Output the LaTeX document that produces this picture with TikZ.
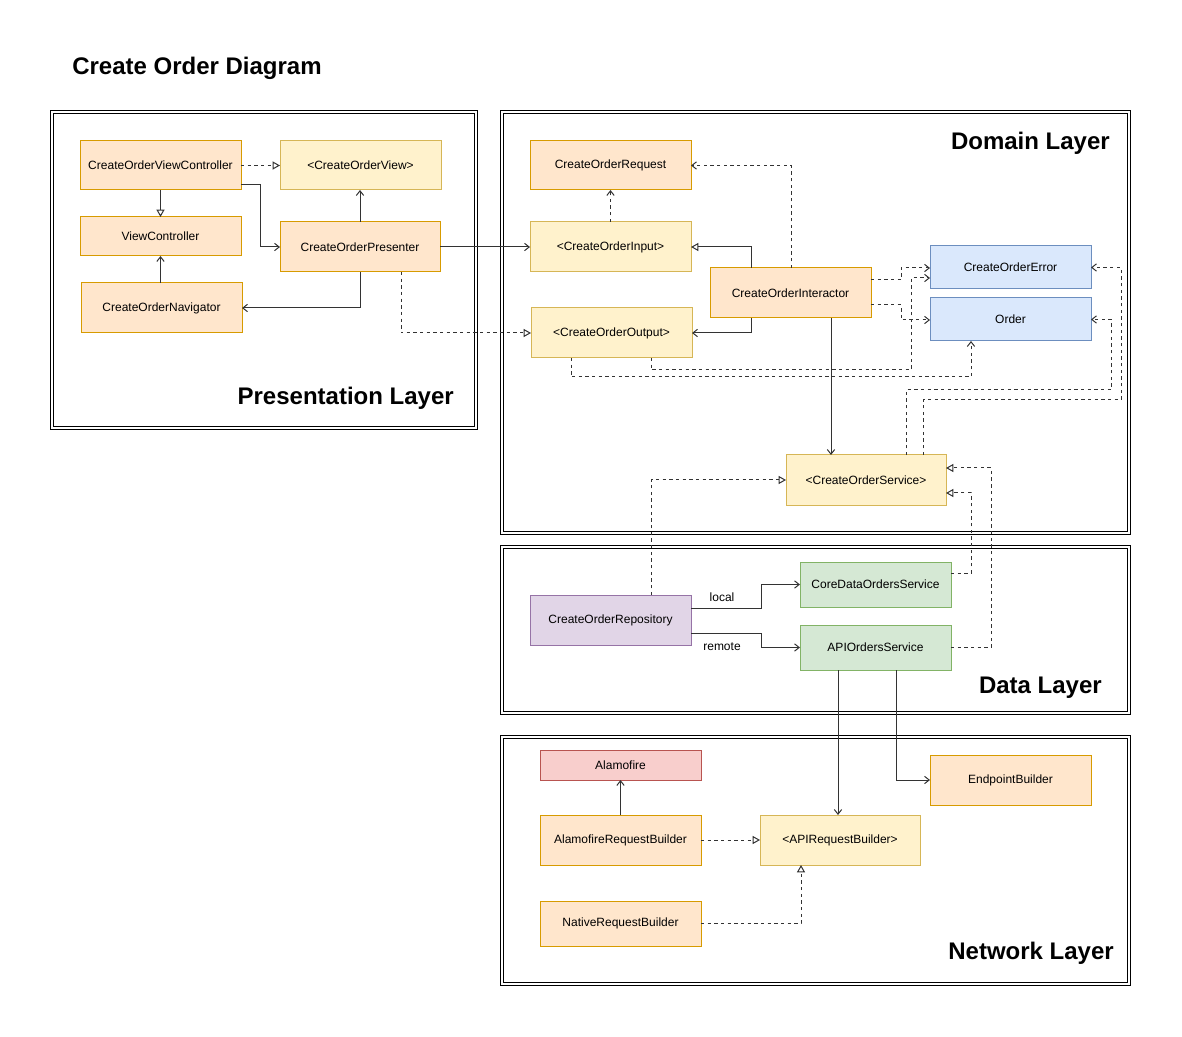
\documentclass[tikz,border=0pt]{standalone}
\usepackage{fontspec}
\setmainfont{Liberation Sans}
\usetikzlibrary{arrows.meta}
\definecolor{orF}{HTML}{FFE6CC}\definecolor{orD}{HTML}{D79B00}
\definecolor{yeF}{HTML}{FFF2CC}\definecolor{yeD}{HTML}{D6B656}
\definecolor{blF}{HTML}{DAE8FC}\definecolor{blD}{HTML}{6C8EBF}
\definecolor{grF}{HTML}{D5E8D4}\definecolor{grD}{HTML}{82B366}
\definecolor{puF}{HTML}{E1D5E7}\definecolor{puD}{HTML}{9673A6}
\definecolor{reF}{HTML}{F8CECC}\definecolor{reD}{HTML}{B85450}
\newcommand\mybox[7]{%
  \pgfmathsetmacro\bxw{(#5-#3)*0.75}%
  \pgfmathsetmacro\bxh{(#6-#4)*0.75}%
  \node[cls,#2,minimum width=\bxw pt,minimum height=\bxh pt] (#1) at ({(#3+#5)/2},{(#4+#6)/2}) {#7};}
\tikzset{
  cls/.style={draw,line width=0.75pt,inner sep=0pt,outer sep=0pt,font=\fontsize{9pt}{11pt}\selectfont},
  orange/.style={fill=orF,draw=orD},
  yellow/.style={fill=yeF,draw=yeD},
  blue/.style={fill=blF,draw=blD},
  green/.style={fill=grF,draw=grD},
  purple/.style={fill=puF,draw=puD},
  red/.style={fill=reF,draw=reD},
  frame/.style={draw=black,line width=0.75pt,double=white,double distance=1.5pt},
  layer/.style={anchor=east,inner sep=0pt,font=\fontsize{18pt}{21pt}\selectfont\bfseries},
  conn/.style={line width=0.75pt,draw=black!80},
  use/.style={conn,-{Straight Barb[length=3.5pt,width=5.5pt]}},
  inh/.style={conn,-{Triangle[open,length=5.5pt,width=6pt,fill=white]}},
  dsh/.style={dash pattern=on 2.5pt off 2.5pt},
  lbl/.style={inner sep=0pt,font=\fontsize{9pt}{11pt}\selectfont}
}
\begin{document}
\begin{tikzpicture}[x=0.75pt,y=-0.75pt]
\useasboundingbox[fill=white] (0,0) rectangle (1182,1037);
% title
\node[anchor=west,inner sep=0pt,font=\fontsize{18pt}{21pt}\selectfont\bfseries] (title) at (72,68) {Create Order Diagram};
% layer frames
\draw[frame] (52,112) rectangle (476,428);
\draw[frame] (502,112) rectangle (1129,533);
\draw[frame] (502,547) rectangle (1129,713);
\draw[frame] (502,737) rectangle (1129,984);
\node[layer] (lpres) at (454,398) {Presentation Layer};
\node[layer] (ldom) at (1110,143) {Domain Layer};
\node[layer] (ldata) at (1102,688) {Data Layer};
\node[layer] (lnet) at (1114,953) {Network Layer};
% presentation nodes
\mybox{cvc}{orange}{80}{141}{241}{190}{CreateOrderViewController}
\mybox{cov}{yellow}{280}{141}{441}{190}{<CreateOrderView>}
\mybox{vc}{orange}{80}{217}{241}{256}{ViewController}
\mybox{pres}{orange}{280}{222}{440}{272}{CreateOrderPresenter}
\mybox{nav}{orange}{81}{283}{242}{333}{CreateOrderNavigator}
% domain nodes
\mybox{req}{orange}{530}{141}{691}{190}{CreateOrderRequest}
\mybox{inp}{yellow}{530}{222}{691}{272}{<CreateOrderInput>}
\mybox{outp}{yellow}{531}{308}{692}{358}{<CreateOrderOutput>}
\mybox{inter}{orange}{710}{268}{871}{318}{CreateOrderInteractor}
\mybox{err}{blue}{930}{246}{1091}{289}{CreateOrderError}
\mybox{ord}{blue}{930}{298}{1091}{341}{Order}
\mybox{serv}{yellow}{786}{455}{946}{505}{<CreateOrderService>}
% data nodes
\mybox{repo}{purple}{530}{595}{691}{645}{CreateOrderRepository}
\mybox{core}{green}{800}{562}{951}{607}{CoreDataOrdersService}
\mybox{api}{green}{800}{625}{951}{670}{APIOrdersService}
% network nodes
\mybox{alamo}{red}{540}{750}{701}{780}{Alamofire}
\mybox{arb}{orange}{540}{815}{701}{865}{AlamofireRequestBuilder}
\mybox{apirb}{yellow}{760}{815}{920}{865}{<APIRequestBuilder>}
\mybox{endp}{orange}{930}{755}{1091}{805}{EndpointBuilder}
\mybox{nrb}{orange}{540}{901}{701}{946}{NativeRequestBuilder}
% presentation connectors
\draw[inh,dsh] (cvc.east) -- (cov.west);
\draw[inh] (cvc.south) -- (vc.north);
\draw[use] (cvc.east |- 0,185) -| (260,247) -- (pres.west);
\draw[use] (pres.north) -- (pres.north |- cov.south);
\draw[use] (pres.south) |- (nav.east);
\draw[use] (vc.south |- nav.north) -- (vc.south);
\draw[use] (pres.east) -- (inp.west);
\draw[inh,dsh] (pres.south -| 401,0) |- (outp.west);
% domain connectors
\draw[use,dsh] (inp.north) -- (req.south);
\draw[use,dsh] (inter.north -| 791,0) |- (req.east);
\draw[inh] (inter.north -| 751,0) |- (inp.east);
\draw[use] (inter.south -| 751,0) |- (outp.east);
\draw[use,dsh] (inter.east |- 0,280) -- (901,280) |- (err.west |- 0,268);
\draw[use,dsh] (inter.east |- 0,305) -- (901,305) |- (ord.west |- 0,320);
\draw[use,dsh] (outp.south -| 651,0) |- (911,370) |- (err.west |- 0,278);
\draw[use,dsh] (outp.south -| 571,0) |- (971,377) -- (ord.south -| 971,0);
\draw[use,dsh] (serv.north -| 906,0) |- (1111,390) |- (ord.east);
\draw[use,dsh] (serv.north -| 923,0) |- (1121,400) |- (err.east);
\draw[use] (inter.south -| 831,0) -- (serv.north -| 831,0);
% data connectors
\draw[inh,dsh] (repo.north -| 651,0) |- (serv.west);
\draw[inh,dsh] (core.east |- 0,573) -| (971,493) -- (serv.east |- 0,493);
\draw[inh,dsh] (api.east) -| (991,468) -- (serv.east |- 0,468);
\draw[use] (repo.east |- 0,608) -- (761,608) |- (core.west);
\draw[use] (repo.east |- 0,633) -- (761,633) |- (api.west);
\node[lbl] (llocal) at (722,597) {local};
\node[lbl] (lremote) at (722,647) {remote};
% network connectors
\draw[use] (api.south -| 838,0) -- (apirb.north -| 838,0);
\draw[use] (api.south -| 896,0) |- (endp.west);
\draw[use] (arb.north) -- (alamo.south);
\draw[inh,dsh] (arb.east) -- (apirb.west);
\draw[inh,dsh] (nrb.east) -| (apirb.south -| 801,0);
\end{tikzpicture}
\end{document}
